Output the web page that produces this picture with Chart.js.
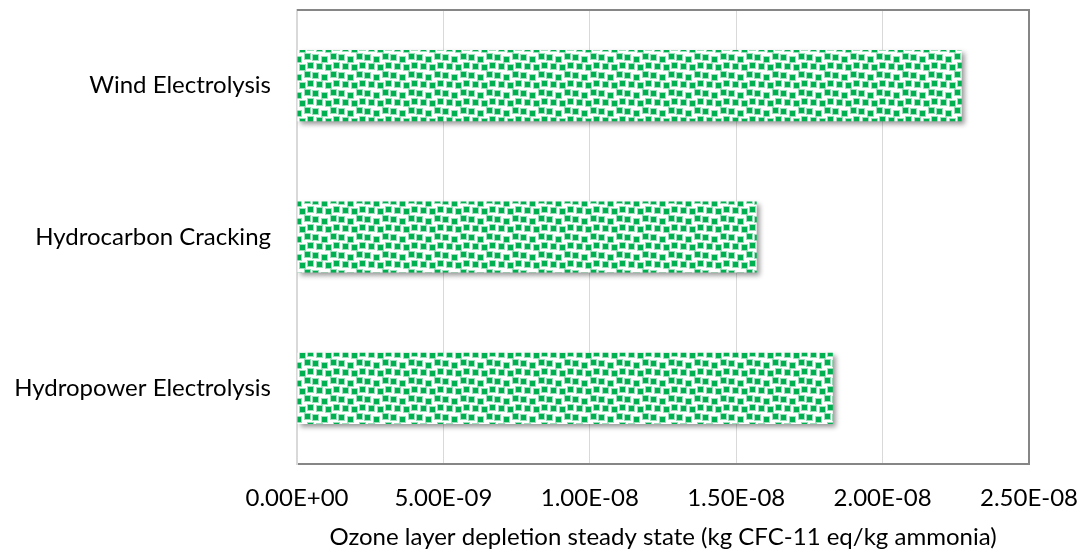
<!DOCTYPE html>
<html>
<head>
<meta charset="utf-8">
<script src="https://cdn.jsdelivr.net/npm/chart.js@4"></script>
<style>
  html, body { margin: 0; padding: 0; background: #ffffff; }
  #wrap { width: 1082px; height: 554px; }
</style>
</head>
<body>
<div id="wrap"><canvas id="ozoneChart" width="1082" height="554"></canvas></div>
<script>
// Ozone layer depletion per production route
const routes = ['Wind Electrolysis', 'Hydrocarbon Cracking', 'Hydropower Electrolysis'];
const ozoneDepletion = [2.27e-8, 1.57e-8, 1.83e-8];
const xTickLabels = ['0.00E+00', '5.00E-09', '1.00E-08', '1.50E-08', '2.00E-08', '2.50E-08'];

// Green confetti fill for the bars
function makeConfetti(ctx) {
    const W = 26, H = 18;
    const tile = document.createElement('canvas');
    tile.width = W;
    tile.height = H;
    const t = tile.getContext('2d');
    t.fillStyle = '#ffffff';
    t.fillRect(0, 0, W, H);
    const spots = [[1, 1], [10, 3], [19, 0], [5, 10], [14, 11], [22, 9]];
    const wrapDraw = (x, y, w, h) => {
        for (const dx of [-W, 0, W]) {
            for (const dy of [-H, 0, H]) t.fillRect(x + dx, y + dy, w, h);
        }
    };
    // soft halo, then solid core
    t.fillStyle = 'rgba(0,176,80,0.4)';
    spots.forEach(([x, y]) => wrapDraw(x - 1, y - 1, 7, 7));
    t.fillStyle = '#00b050';
    spots.forEach(([x, y]) => wrapDraw(x, y, 5, 5));
    return ctx.createPattern(tile, 'repeat');
}

// Drop shadow behind the bars
const barShadow = {
    id: 'barShadow',
    beforeDatasetsDraw(chart) {
        const ctx = chart.ctx;
        ctx.save();
        ctx.shadowColor = 'rgba(0,0,0,0.4)';
        ctx.shadowBlur = 5;
        ctx.shadowOffsetX = 3;
        ctx.shadowOffsetY = 3;
    },
    afterDatasetsDraw(chart) {
        chart.ctx.restore();
    }
};

// Dark frame on top and right of the plot area
const plotFrame = {
    id: 'plotFrame',
    afterDraw(chart) {
        const { ctx, chartArea: a } = chart;
        ctx.save();
        ctx.strokeStyle = '#868686';
        ctx.lineWidth = 2;
        ctx.beginPath();
        ctx.moveTo(a.left, a.top);
        ctx.lineTo(a.right, a.top);
        ctx.lineTo(a.right, a.bottom);
        ctx.stroke();
        ctx.restore();
    }
};

const ctx = document.getElementById('ozoneChart').getContext('2d');

new Chart(ctx, {
    type: 'bar',
    data: {
        labels: routes,
        datasets: [{
            label: 'Ozone layer depletion',
            data: ozoneDepletion,
            backgroundColor: makeConfetti(ctx),
            borderWidth: 0,
            barPercentage: 0.47,
            categoryPercentage: 1
        }]
    },
    options: {
        indexAxis: 'y',
        responsive: false,
        animation: false,
        layout: {
            padding: { top: 10, right: 53, left: 0, bottom: 0 }
        },
        plugins: {
            legend: { display: false },
            tooltip: { enabled: false }
        },
        scales: {
            x: {
                min: 0,
                max: 2.5e-8,
                ticks: {
                    stepSize: 5e-9,
                    color: '#000000',
                    padding: 20,
                    font: { family: 'Lato', size: 24 },
                    callback: (v, i) => xTickLabels[i]
                },
                grid: { color: '#d9d9d9', lineWidth: 1, drawTicks: false },
                border: { color: '#868686', width: 2 },
                title: {
                    display: true,
                    text: 'Ozone layer depletion steady state (kg CFC-11 eq/kg ammonia)',
                    color: '#000000',
                    font: { family: 'Lato', size: 24 },
                    padding: { top: 10, bottom: 2 }
                },
                afterFit(scale) {
                    scale.height = 90;
                    // let the end labels hang past the plot area
                    scale.paddingLeft = 0;
                    scale.paddingRight = 0;
                }
            },
            y: {
                ticks: {
                    color: '#000000',
                    padding: 26,
                    font: { family: 'Lato', size: 24 }
                },
                grid: { display: false, drawTicks: false },
                border: { color: '#d9d9d9', width: 2 },
                afterFit(scale) {
                    scale.width = 297;
                    scale.paddingTop = 0;
                    scale.paddingBottom = 0;
                }
            }
        }
    },
    plugins: [barShadow, plotFrame]
});
</script>
</body>
</html>
